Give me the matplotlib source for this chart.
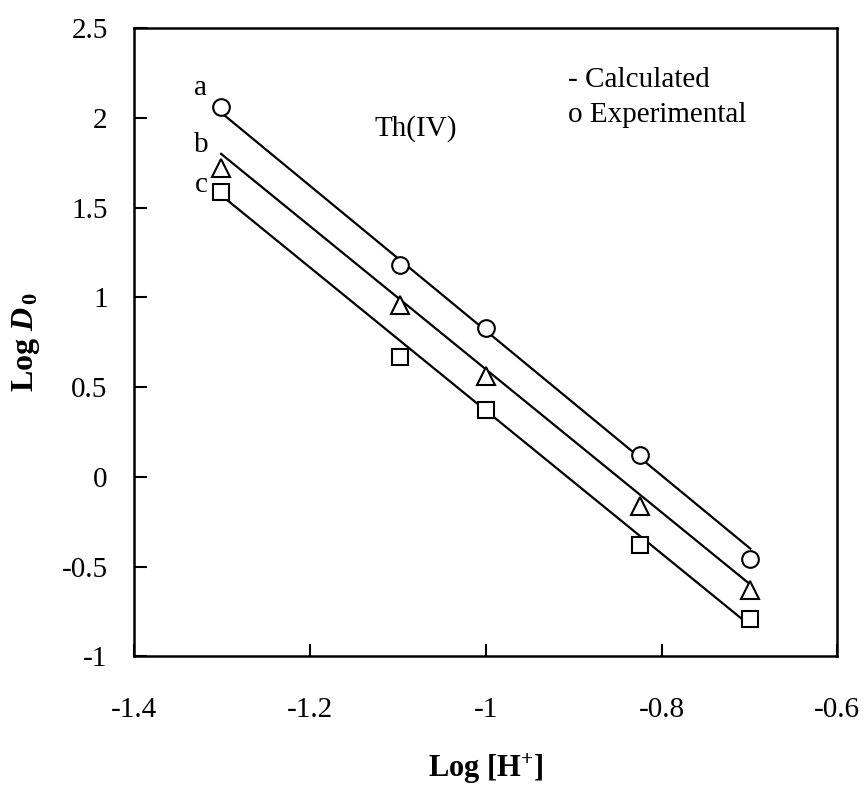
import numpy as np
import matplotlib.pyplot as plt

plt.rcParams['font.family'] = ['Liberation Serif', 'DejaVu Serif']
plt.rcParams['mathtext.fontset'] = 'custom'
plt.rcParams['mathtext.rm'] = 'Liberation Serif:bold'
plt.rcParams['mathtext.bf'] = 'Liberation Serif:bold'
plt.rcParams['mathtext.it'] = 'Liberation Serif:bold:italic'

# experimental points, x = log of [H+] = 0.05, 0.08, 0.1, 0.15, 0.2 M
log_h = [-1.301, -1.097, -1.0, -0.824, -0.699]
exp_a = [2.06, 1.18, 0.83, 0.12, -0.46]
exp_b = [1.72, 0.96, 0.56, -0.16, -0.63]
exp_c = [1.59, 0.67, 0.37, -0.38, -0.79]

# calculated lines (end points)
calc_x = [-1.301, -0.699]
calc_a = [2.03, -0.40]
calc_b = [1.80, -0.60]
calc_c = [1.57, -0.83]

fs = 21

fig = plt.figure(figsize=(8.65, 7.85), dpi=100)
ax = fig.add_axes([0.155, 0.164, 0.813, 0.800])

for yc in (calc_a, calc_b, calc_c):
    ax.plot(calc_x, yc, color='black', lw=1.6)

mk = dict(ls='none', mfc='white', mec='black', mew=1.5, zorder=3)
ax.plot(log_h, exp_a, marker='o', ms=12, **mk)
ax.plot(log_h, exp_b, marker='^', ms=12.5, **mk)
ax.plot(log_h, exp_c, marker='s', ms=12, **mk)

ax.text(-1.325, 2.127, 'a', fontsize=fs, ha='center', va='baseline')
ax.text(-1.323, 1.809, 'b', fontsize=fs, ha='center', va='baseline')
ax.text(-1.323, 1.586, 'c', fontsize=fs, ha='center', va='baseline')
ax.text(-1.08, 1.904, 'Th(IV)', fontsize=fs, ha='center', va='baseline')
ax.text(-0.906, 2.171, '- Calculated', fontsize=fs, ha='left', va='baseline')
ax.text(-0.906, 1.976, 'o Experimental', fontsize=fs, ha='left', va='baseline')

ax.set_xlim(-1.4, -0.6)
ax.set_ylim(-1, 2.5)
ax.set_xticks([-1.4, -1.2, -1.0, -0.8, -0.6])
ax.set_xticklabels(['-1.4', '-1.2', '-1', '-0.8', '-0.6'])
ax.set_yticks([-1, -0.5, 0, 0.5, 1, 1.5, 2, 2.5])
ax.set_yticklabels(['-1', '-0.5', '0', '0.5', '1', '1.5', '2', '2.5'])
ax.tick_params(direction='in', length=9, width=1.5, labelsize=fs,
               top=False, right=False)
ax.tick_params(axis='x', pad=29)
ax.tick_params(axis='y', pad=19)
for s in ax.spines.values():
    s.set_linewidth(1.8)

ax.set_xlabel(r'Log [H$^{+}$]', fontsize=22, fontweight='bold', va='baseline')
ax.xaxis.set_label_coords(0.5, -0.193)
ax.set_ylabel(r'Log $D_{\,0}$', fontsize=23, fontweight='bold', va='center')
ax.yaxis.set_label_coords(-0.1536, 0.5)

fig.savefig('out.png', dpi=100)
